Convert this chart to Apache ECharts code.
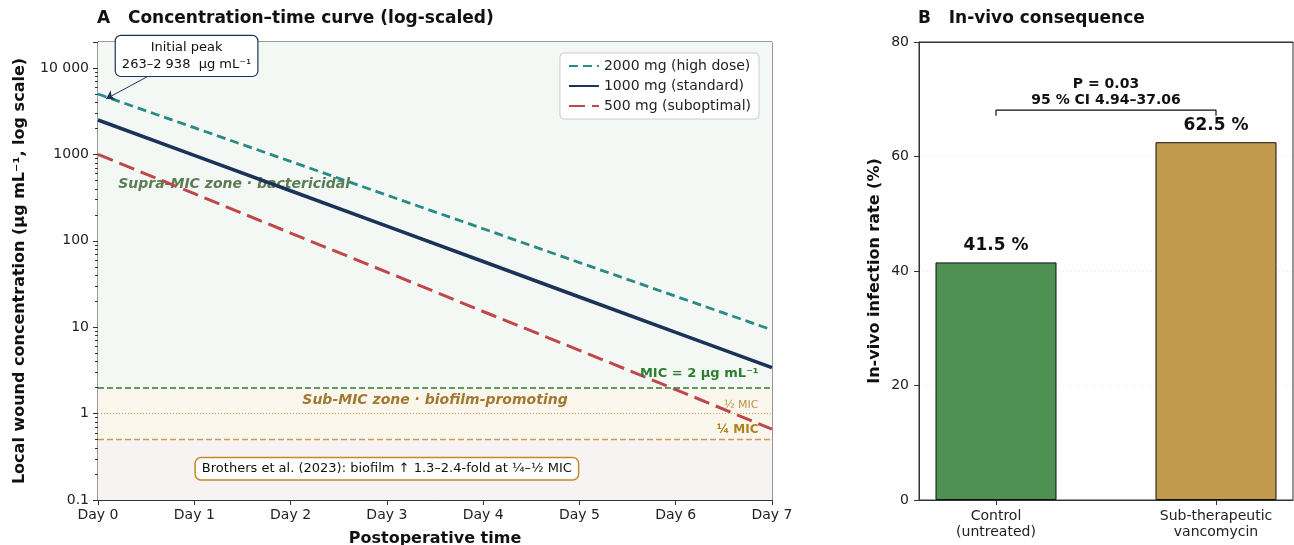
<!DOCTYPE html>
<html>
<head>
<meta charset="utf-8">
<script src="https://cdn.jsdelivr.net/npm/echarts@6/dist/echarts.min.js"></script>
<style>
html, body { margin: 0; padding: 0; background: #fff; }
#main { width: 1294px; height: 545px; }
</style>
</head>
<body>
<div id="main"></div>
<script>
// panel A data
var days = [0, 1, 2, 3, 4, 5, 6, 7];
var highDose = [5000, 2040, 830, 338, 138, 56, 22.8, 9.3];
var standardDose = [2500, 975, 380, 148, 57.6, 22.4, 8.7, 3.4];
var lowDose = [1000, 351, 123, 43.4, 15.2, 5.4, 1.9, 0.66];
var micLevels = [2, 1, 0.5];   // MIC, 1/2 MIC, 1/4 MIC
var logTicks = [0.1, 1, 10, 100, 1000, 10000];
var logTickLabels = ['0.1', '1', '10', '100', '1000', '10 000'];

// panel B data
var groups = ['Control\n(untreated)', 'Sub-therapeutic\nvancomycin'];
var infectionRate = [41.5, 62.5];
var bracket = [[0, 67.1], [0, 68.1], [1, 68.1], [1, 67.1]];

var FONT = 'DejaVu Sans';

var pairs = function (ys) {
    return days.map(function (d, i) { return [d, ys[i]]; });
};

var chart = echarts.init(document.getElementById('main'), null, { renderer: 'canvas' });

var option = {
    animation: false,
    textStyle: { fontFamily: FONT },
    title: [{
        text: 'A   Concentration–time curve (log-scaled)',
        left: 97, top: 10, padding: 0,
        textStyle: { fontFamily: FONT, fontSize: 17, fontWeight: 'bold', color: '#111' }
    }, {
        text: 'B   In-vivo consequence',
        left: 918, top: 10, padding: 0,
        textStyle: { fontFamily: FONT, fontSize: 17, fontWeight: 'bold', color: '#111' }
    }],
    legend: {
        data: ['2000 mg (high dose)', '1000 mg (standard)', '500 mg (suboptimal)'],
        orient: 'vertical',
        right: 535, top: 53,
        backgroundColor: '#fff',
        borderColor: '#ccc', borderWidth: 1, borderRadius: 4,
        padding: [6, 8], itemGap: 6, itemWidth: 30, itemHeight: 12,
        itemStyle: { opacity: 0 },
        textStyle: { fontFamily: FONT, fontSize: 14, color: '#222' }
    },
    grid: [{
        left: 98, right: 522, top: 42, bottom: 45, outerBoundsMode: 'none',
        show: true, borderColor: '#333', borderWidth: 1
    }, {
        left: 919, right: 1, top: 42, bottom: 45, outerBoundsMode: 'none',
        show: true, borderColor: '#333', borderWidth: 1
    }],
    xAxis: [{
        type: 'value', gridIndex: 0, min: 0, max: 7, interval: 1,
        axisLine: { onZero: false, lineStyle: { color: '#333' } },
        axisTick: { show: true, length: 5, lineStyle: { color: '#333' } },
        axisLabel: { formatter: 'Day {value}', fontSize: 14, color: '#222', margin: 8 },
        splitLine: { show: false },
        name: 'Postoperative time', nameLocation: 'middle', nameGap: 31,
        nameTextStyle: { fontFamily: FONT, fontSize: 16, fontWeight: 'bold', color: '#111' }
    }, {
        type: 'value', gridIndex: 1, min: -0.35, max: 1.35,
        axisLine: { onZero: false, lineStyle: { color: '#333' } },
        axisTick: { show: true, length: 5, customValues: [0, 1], lineStyle: { color: '#333' } },
        axisLabel: {
            customValues: [0, 1], fontSize: 14, color: '#222', margin: 8, lineHeight: 16,
            formatter: function (v) { return groups[Math.round(v)]; }
        },
        splitLine: { show: false }
    }, {
        // top spine of panel B
        type: 'value', gridIndex: 1, position: 'top', min: -0.35, max: 1.35,
        axisLine: { show: true, onZero: false, lineStyle: { color: '#333' } },
        axisTick: { show: false }, axisLabel: { show: false }, splitLine: { show: false }
    }],
    yAxis: [{
        type: 'log', logBase: 10, gridIndex: 0, min: 0.1, max: 20000,
        axisLine: { show: true, onZero: false, lineStyle: { color: '#333' } },
        axisTick: { show: true, length: 5, lineStyle: { color: '#333' } },
        minorTick: { show: true, splitNumber: 9, length: 3, lineStyle: { color: '#333' } },
        axisLabel: {
            fontSize: 14, color: '#222', margin: 9,
            formatter: function (v) {
                for (var i = 0; i < logTicks.length; i++) {
                    if (Math.abs(Math.log10(v) - Math.log10(logTicks[i])) < 1e-6) return logTickLabels[i];
                }
                return '';
            }
        },
        splitLine: { show: true, lineStyle: { color: '#e3e3e3', type: [1, 3] } },
        name: 'Local wound concentration (μg mL⁻¹, log scale)',
        nameLocation: 'middle', nameGap: 70,
        nameTextStyle: { fontFamily: FONT, fontSize: 16, fontWeight: 'bold', color: '#111' }
    }, {
        type: 'value', gridIndex: 1, min: 0, max: 80, interval: 20,
        axisLine: { show: true, onZero: false, lineStyle: { color: '#333' } },
        axisTick: { show: true, length: 5, lineStyle: { color: '#333' } },
        axisLabel: { fontSize: 14, color: '#222', margin: 10 },
        splitLine: { show: true, showMaxLine: false, lineStyle: { color: '#e6e6e6', type: [1, 3] } },
        name: 'In-vivo infection rate (%)',
        nameLocation: 'middle', nameGap: 36,
        nameTextStyle: { fontFamily: FONT, fontSize: 16, fontWeight: 'bold', color: '#111' }
    }],
    series: [{
        name: 'zones', type: 'line', xAxisIndex: 0, yAxisIndex: 0, data: [], z: 1, silent: true,
        markArea: {
            silent: true,
            data: [
                [{ yAxis: micLevels[0], itemStyle: { color: '#f4f8f4' } }, { yAxis: 20000 }],
                [{ yAxis: micLevels[2], itemStyle: { color: '#faf6ec' } }, { yAxis: micLevels[0] }],
                [{ yAxis: 0.1, itemStyle: { color: '#f8f3f3' } }, { yAxis: micLevels[2] }]
            ]
        },
        markLine: {
            silent: true, symbol: 'none', label: { show: false },
            data: [
                { yAxis: micLevels[0], lineStyle: { color: '#2e7d32', width: 1.5, type: [6, 3] } },
                { yAxis: micLevels[1], lineStyle: { color: '#c8a060', width: 1, type: [1, 2] } },
                { yAxis: micLevels[2], lineStyle: { color: '#c9a050', width: 1.3, type: [6, 3] } }
            ]
        }
    }, {
        name: '2000 mg (high dose)', type: 'line', xAxisIndex: 0, yAxisIndex: 0, z: 3,
        data: pairs(highDose), symbol: 'none',
        itemStyle: { color: '#2a8a85' },
        lineStyle: { color: '#2a8a85', width: 2.8, type: [9, 5] },
        markLine: {
            silent: true, symbol: ['none', 'arrow'], symbolSize: 8, label: { show: false },
            lineStyle: { color: '#1c3358', width: 1, type: 'solid' },
            data: [[{ coord: [0.68, 10000] }, { coord: [0.085, 4400] }]]
        }
    }, {
        name: '1000 mg (standard)', type: 'line', xAxisIndex: 0, yAxisIndex: 0, z: 3,
        data: pairs(standardDose), symbol: 'none',
        itemStyle: { color: '#1c3358' },
        lineStyle: { color: '#1c3358', width: 3.6, type: 'solid' }
    }, {
        name: '500 mg (suboptimal)', type: 'line', xAxisIndex: 0, yAxisIndex: 0, z: 3,
        data: pairs(lowDose), symbol: 'none',
        itemStyle: { color: '#c0474a' },
        lineStyle: { color: '#c0474a', width: 3, type: [16, 7] }
    }, {
        name: 'rate', type: 'bar', xAxisIndex: 1, yAxisIndex: 1,
        barWidth: 121,
        data: infectionRate.map(function (v, i) {
            return { value: [i, v], itemStyle: { color: i === 0 ? '#4e9153' : '#c19b4b' } };
        }),
        itemStyle: { borderColor: '#111', borderWidth: 1 },
        label: {
            show: true, position: 'top', distance: 8,
            fontFamily: FONT, fontSize: 17, fontWeight: 'bold', color: '#111',
            formatter: function (p) { return p.value[1] + ' %'; }
        }
    }, {
        name: 'bracket', type: 'line', xAxisIndex: 1, yAxisIndex: 1,
        data: bracket, symbol: 'none', silent: true,
        lineStyle: { color: '#111', width: 1.2 }
    }]
};

chart.setOption(option);

var px = function (grid, pt) { return chart.convertToPixel({ gridIndex: grid }, pt); };
var p;
var graphics = [];

// zone labels sit between the shaded bands and the curves
p = px(0, [0.21, 454]);
graphics.push({ type: 'text', x: p[0], y: p[1], z: 2, style: {
    text: 'Supra-MIC zone · bactericidal', fill: '#5a7d52',
    font: 'italic bold 14px "DejaVu Sans"', verticalAlign: 'middle', align: 'left' } });

p = px(0, [3.5, 1.44]);
graphics.push({ type: 'text', x: p[0], y: p[1], z: 2, style: {
    text: 'Sub-MIC zone · biofilm-promoting', fill: '#a07a32',
    font: 'italic bold 14px "DejaVu Sans"', verticalAlign: 'middle', align: 'center' } });

p = px(0, [6.86, 2.9]);
graphics.push({ type: 'text', x: p[0], y: p[1], z: 10, style: {
    text: 'MIC = 2 μg mL⁻¹', fill: '#2e7d32',
    font: 'bold 13px "DejaVu Sans"', verticalAlign: 'middle', align: 'right' } });

p = px(0, [6.86, 1.26]);
graphics.push({ type: 'text', x: p[0], y: p[1], z: 10, style: {
    text: '½ MIC', fill: '#b89048',
    font: '11px "DejaVu Sans"', verticalAlign: 'middle', align: 'right' } });

p = px(0, [6.86, 0.64]);
graphics.push({ type: 'text', x: p[0], y: p[1], z: 10, style: {
    text: '¼ MIC', fill: '#b0801a',
    font: 'bold 12px "DejaVu Sans"', verticalAlign: 'middle', align: 'right' } });

p = px(0, [3.0, 0.23]);
graphics.push({ type: 'text', x: p[0], y: p[1], z: 10, style: {
    text: 'Brothers et al. (2023): biofilm ↑ 1.3–2.4-fold at ¼–½ MIC', fill: '#111',
    font: '13px "DejaVu Sans"', verticalAlign: 'middle', align: 'center',
    backgroundColor: '#fff', borderColor: '#c08a28', borderWidth: 1.5, borderRadius: 5,
    padding: [4, 6] } });

p = px(0, [0.92, 13800]);
graphics.push({ type: 'text', x: p[0], y: p[1], z: 10, style: {
    text: 'Initial peak\n263–2 938  μg mL⁻¹', fill: '#111',
    font: '13px "DejaVu Sans"', lineHeight: 17, verticalAlign: 'middle', align: 'center',
    backgroundColor: '#fff', borderColor: '#1c3358', borderWidth: 1.2, borderRadius: 5,
    padding: [3, 6] } });

p = px(1, [0.5, 68.4]);
graphics.push({ type: 'text', x: p[0], y: p[1], z: 10, style: {
    text: 'P = 0.03\n95 % CI 4.94–37.06', fill: '#111',
    font: 'bold 14px "DejaVu Sans"', lineHeight: 16, verticalAlign: 'bottom', align: 'center' } });

chart.setOption({ graphic: graphics });
</script>
</body>
</html>
